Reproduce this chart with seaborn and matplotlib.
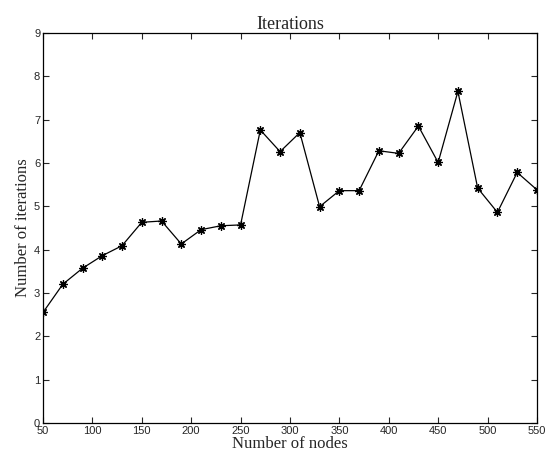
import pandas as pd
import seaborn as sns
import matplotlib.pyplot as plt

nodes = [50, 70, 90, 110, 130, 150, 170, 190, 210, 230, 250, 270, 290,
         310, 330, 350, 370, 390, 410, 430, 450, 470, 490, 510, 530, 550]
iterations = [2.55, 3.20, 3.57, 3.86, 4.09, 4.63, 4.66, 4.13, 4.46, 4.55, 4.57, 6.76, 6.26,
              6.70, 4.99, 5.36, 5.36, 6.28, 6.22, 6.85, 6.01, 7.65, 5.42, 4.86, 5.78, 5.38]

data = pd.DataFrame({'Nodes': nodes, 'Iterations': iterations})

sns.set_style('ticks')
fig = plt.figure(figsize=(5.47, 4.59), dpi=100)
ax = fig.add_axes([0.0786, 0.0784, 0.903, 0.85])

sns.lineplot(x='Nodes', y='Iterations', data=data, ax=ax, color='black',
             linewidth=0.9, marker=(8, 2, 0), markersize=6,
             markeredgecolor='black', markeredgewidth=0.9)

ax.set_xlim(50, 550)
ax.set_ylim(0, 9)
ax.set_xticks(range(50, 551, 50))
ax.set_yticks(range(0, 10))
ax.tick_params(direction='in', top=True, right=True, length=4, width=0.8,
               labelsize=8, pad=2)
for lbl in ax.get_xticklabels() + ax.get_yticklabels():
    lbl.set_family('Liberation Sans')
for s in ax.spines.values():
    s.set_linewidth(0.9)
    s.set_color('black')

serif = 'Liberation Serif'
ax.set_title('Iterations', family=serif, fontsize=13, pad=3)
ax.set_xlabel('Number of nodes', family=serif, fontsize=12, labelpad=0)
ax.set_ylabel('Number of iterations', family=serif, fontsize=12, labelpad=2)

fig.savefig('out.png', dpi=100)
